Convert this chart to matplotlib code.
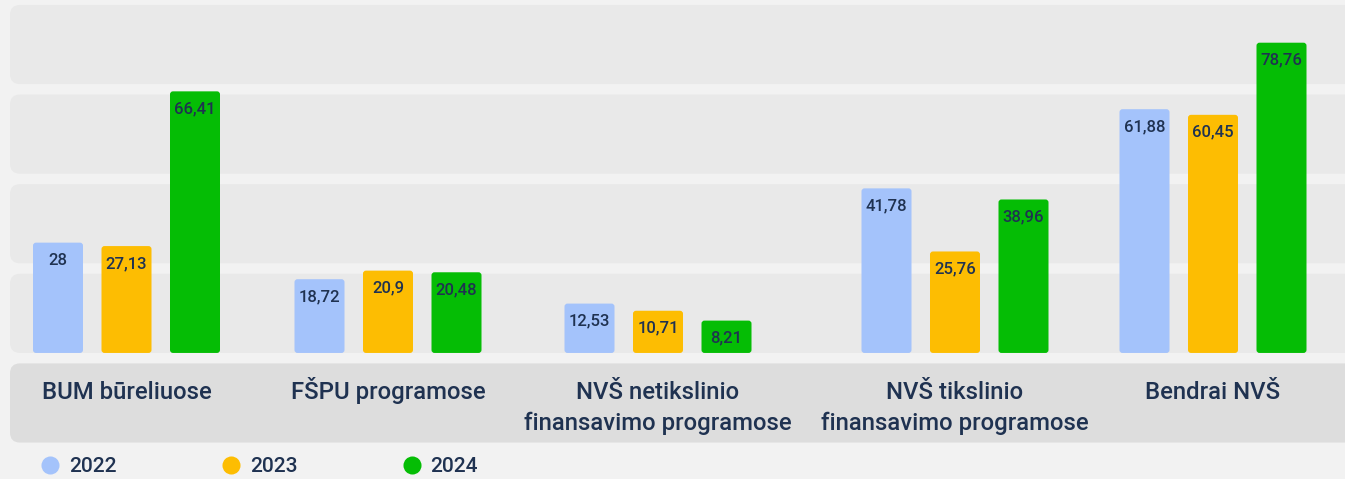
import matplotlib.pyplot as plt
from matplotlib.patches import FancyBboxPatch
from matplotlib.lines import Line2D

# data
categories = ['BUM būreliuose', 'FŠPU programose',
              'NVŠ netikslinio\nfinansavimo programose',
              'NVŠ tikslinio\nfinansavimo programose', 'Bendrai NVŠ']
years = ['2022', '2023', '2024']
v2022 = [28, 18.72, 12.53, 41.78, 61.88]
v2023 = [27.13, 20.9, 10.71, 25.76, 60.45]
v2024 = [66.41, 20.48, 8.21, 38.96, 78.76]

colors = ['#a4c3fb', '#fdbd02', '#05bd05']
txt = '#1f3251'
plt.rcParams['font.family'] = ['Roboto', 'DejaVu Sans']

# layout (x in pixels, y in data units)
centers = [126.5, 388, 658, 955, 1213]
offsets = [-68.5, 0, 68.5]
bar_w = 50
px = 3.94  # pixels per unit
asp = 1 / px

fig = plt.figure(figsize=(13.45, 4.79), dpi=100)
fig.patch.set_facecolor('#f2f2f2')
ax = fig.add_axes([0, 0, 1, 1])
ax.set_xlim(0, 1345)
ax.set_ylim(-32.0, 89.6)
ax.axis('off')

# background bands
period, band_h = 22.75, 20.1
for i in range(4):
    y0 = i * period
    ax.add_patch(FancyBboxPatch((10, y0), 1400, band_h,
                                boxstyle='round,pad=0,rounding_size=10',
                                mutation_aspect=asp, fc='#e9e9e9', ec='none', zorder=0))
ax.add_patch(FancyBboxPatch((10, -period), 1400, band_h,
                            boxstyle='round,pad=0,rounding_size=10',
                            mutation_aspect=asp, fc='#dddddd', ec='none', zorder=0))

series = [v2022, v2023, v2024]
for s, vals in enumerate(series):
    xs = [c + offsets[s] for c in centers]
    bars = ax.bar(xs, vals, width=bar_w, color=colors[s], alpha=0)
    for r, v in zip(bars, vals):
        x, y = r.get_x(), r.get_y()
        ax.add_patch(FancyBboxPatch((x, y), r.get_width(), r.get_height(),
                                    boxstyle='round,pad=0,rounding_size=3',
                                    mutation_aspect=asp, fc=colors[s], ec='none', zorder=2))
        ax.annotate(f'{v:g}'.replace('.', ','), (x + bar_w / 2, v),
                    xytext=(0, -12.5), textcoords='offset points',
                    ha='center', va='center', fontsize=12, fontweight='medium',
                    color=txt, zorder=3)

# category labels, one text per line so every first line shares a baseline
for c, lab in zip(centers, categories):
    for k, line in enumerate(lab.split('\n')):
        ax.text(c, -(399 + 31 * k - 353) / px, line, ha='center', va='baseline',
                fontsize=17.2, fontweight='medium', color=txt)

handles = [Line2D([], [], ls='none', marker='o', ms=13, mfc=col, mec='none')
           for col in colors]
fig.legend(handles, years, loc='center left', bbox_to_anchor=(0.0295, 1 - 467 / 479),
           ncol=3, frameon=False, handlelength=1, handletextpad=0.4,
           columnspacing=5.0, borderpad=0, borderaxespad=0, labelcolor=txt,
           prop={'weight': 'medium', 'size': 15})

fig.savefig('out.png', dpi=100, facecolor=fig.get_facecolor())
